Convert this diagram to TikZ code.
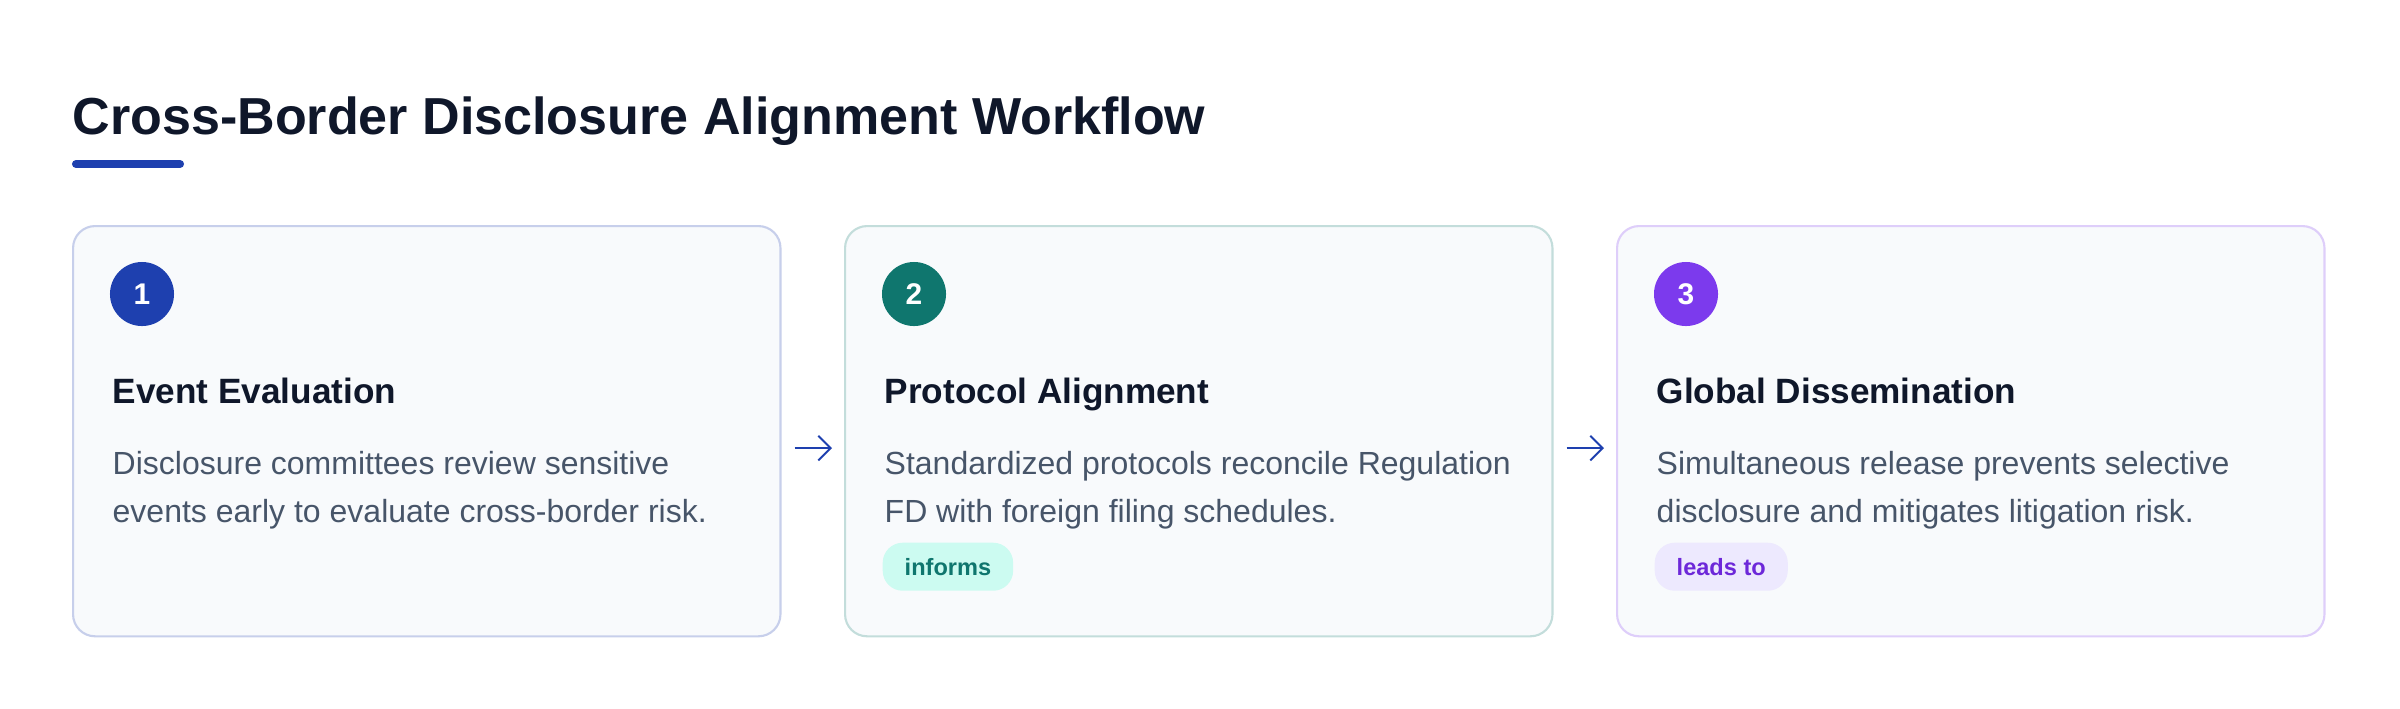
\documentclass[tikz,border=0pt]{standalone}
\usepackage{fontspec}
\setmainfont{Liberation Sans}
\usetikzlibrary{arrows.meta}

\definecolor{ink}{HTML}{0F172A}
\definecolor{slate}{HTML}{475569}
\definecolor{cardbg}{HTML}{F8FAFC}
\definecolor{accA}{HTML}{1E40AF}
\definecolor{accB}{HTML}{0F766E}
\definecolor{accC}{HTML}{7C3AED}
\definecolor{tagB}{HTML}{CCFBF1}
\definecolor{tagC}{HTML}{EDE9FE}
\definecolor{tagtextC}{HTML}{6D28D9}

\tikzset{
    card/.style={draw=#1!25!white, fill=cardbg, line width=0.6pt, rounded corners=0.22cm,
        minimum width=7.07cm, minimum height=4.1cm, anchor=north west, inner sep=0pt},
    badge/.style={circle, fill=#1, text=white, minimum size=0.64cm, inner sep=0pt,
        font=\fontsize{8.5}{10}\selectfont\bfseries},
    heading/.style={anchor=base west, inner sep=0pt, text=ink,
        font=\fontsize{10}{12}\selectfont\bfseries},
    bodytext/.style={anchor=base west, inner sep=0pt, text=slate,
        font=\fontsize{9.1}{11}\selectfont},
    pill/.style={fill=#1, rounded corners=0.2cm, anchor=north west, inner xsep=0.22cm,
        inner ysep=0pt, minimum height=0.48cm, font=\fontsize{6.7}{8}\selectfont\bfseries},
    flow/.style={draw=accA, line width=0.55pt, -{Straight Barb[length=3.5pt,width=7pt]},
        shorten <=0.13cm, shorten >=0.12cm},
}

\begin{document}
\begin{tikzpicture}[x=0.01cm, y=-0.01cm]
    % Canvas in pixels
    \fill[white] (0,0) rectangle (2400,708);
    \useasboundingbox (0,0) rectangle (2400,708);
    \def\cardstep{772} % horizontal distance between cards

    % Title and accent bar
    \node[anchor=base west, inner sep=0pt, text=ink, font=\fontsize{14.8}{18}\selectfont\bfseries]
        (title) at (72,134) {Cross-Border Disclosure Alignment Workflow};
    \draw[accA, line width=2.3pt, line cap=round] (76,164) -- (180,164);

    % Cards, badges and headings
    \foreach \i/\col/\head in {1/accA/Event Evaluation, 2/accB/Protocol Alignment, 3/accC/Global Dissemination} {
        \node[card=\col] (card\i) at ({72+(\i-1)*\cardstep},225) {};
        \node[badge=\col] (num\i) at ({142+(\i-1)*\cardstep},294) {\i};
        \node[heading] (head\i) at ({112+(\i-1)*\cardstep},403) {\head};
    }

    % Descriptions
    \foreach \i/\la/\lb in {1/Disclosure committees review sensitive/events early to evaluate cross-border risk.,
            2/Standardized protocols reconcile Regulation/FD with foreign filing schedules.,
            3/Simultaneous release prevents selective/disclosure and mitigates litigation risk.} {
        \node[bodytext] (desc\i a) at ({112+(\i-1)*\cardstep},474) {\la};
        \node[bodytext] (desc\i b) at ({112+(\i-1)*\cardstep},522) {\lb};
    }

    % Relation tags
    \node[pill=tagB, text=accB] (tag2) at (882,542) {informs};
    \node[pill=tagC, text=tagtextC] (tag3) at (1654,542) {leads to};

    % Arrows between cards
    \draw[flow] ([yshift=-0.17cm]card1.east) -- ([yshift=-0.17cm]card2.west);
    \draw[flow] ([yshift=-0.17cm]card2.east) -- ([yshift=-0.17cm]card3.west);

\end{tikzpicture}
\end{document}
